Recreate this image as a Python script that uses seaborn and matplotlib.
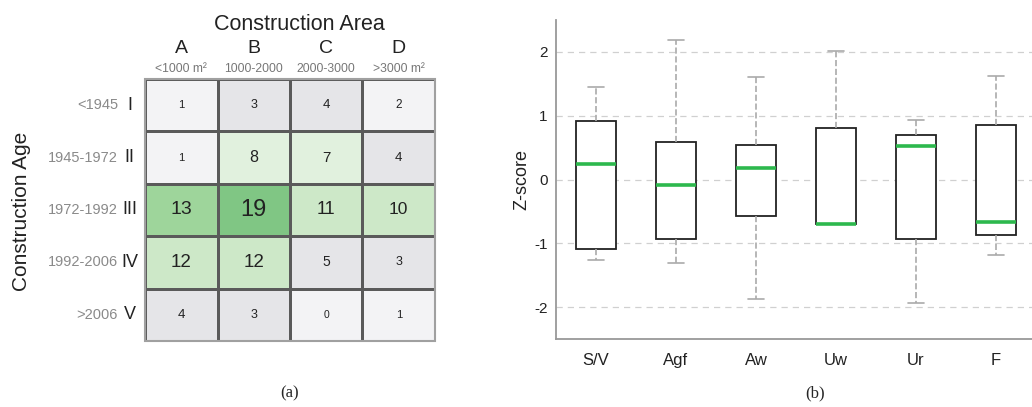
import numpy as np
import pandas as pd
import matplotlib
matplotlib.use("Agg")
import matplotlib.pyplot as plt
from matplotlib.colors import ListedColormap, BoundaryNorm
from matplotlib.patches import Rectangle
import seaborn as sns

# ----------------------------
# Data: (a) construction area vs age counts
# ----------------------------
area_letters = ["A", "B", "C", "D"]
area_ranges = ["<1000 m²", "1000-2000", "2000-3000", ">3000 m²"]
age_numerals = ["I", "II", "III", "IV", "V"]
age_ranges = ["<1945", "1945-1972", "1972-1992", "1992-2006", ">2006"]
counts = [
    [1, 3, 4, 2],
    [1, 8, 7, 4],
    [13, 19, 11, 10],
    [12, 12, 5, 3],
    [4, 3, 0, 1],
]

# ----------------------------
# Data: (b) z-score box stats (min, q1, median, q3, max)
# ----------------------------
variables = ["S/V", "Agf", "Aw", "Uw", "Ur", "F"]
z_min = [-1.26, -1.31, -1.87, -0.70, -1.94, -1.19]
z_q1 = [-1.09, -0.93, -0.57, -0.70, -0.93, -0.87]
z_med = [0.24, -0.09, 0.18, -0.70, 0.53, -0.67]
z_q3 = [0.91, 0.58, 0.54, 0.81, 0.70, 0.86]
z_max = [1.45, 2.18, 1.60, 2.01, 0.94, 1.63]

sns.set_style("white")
plt.rcParams["font.family"] = ["Liberation Sans", "DejaVu Sans"]
plt.rcParams["axes.unicode_minus"] = False

fig = plt.figure(figsize=(10.32, 4.07), dpi=100)

# ----------------------------
# Panel (a): heatmap
# ----------------------------
ax1 = fig.add_axes([145 / 1032, 1 - 341 / 407, 290 / 1032, 262 / 407])
mat = pd.DataFrame(counts, index=age_numerals, columns=area_letters)
cmap = ListedColormap(["#f3f3f5", "#e5e5e8", "#e1f1de", "#cde8c8", "#9ed59b", "#80c684"])
norm = BoundaryNorm([-0.5, 2.5, 6, 9, 12.5, 15, 20], cmap.N)
sns.heatmap(mat, ax=ax1, cmap=cmap, norm=norm, cbar=False,
            linewidths=0.75, linecolor="#5a5a5a")
ax1.add_patch(Rectangle((0, 0), 4, 5, fill=False, edgecolor="#a0a0a0",
                        linewidth=1.5, clip_on=False))

for i, row in enumerate(counts):
    for j, v in enumerate(row):
        ax1.text(j + 0.5, i + 0.5, str(v), ha="center", va="center",
                 fontsize=7.5 + 0.5 * v, color="#222222")

ax1.set_xticks([])
ax1.set_yticks([])
ax1.set_xlabel("")
ax1.set_ylabel("")

for j in range(4):
    ax1.annotate(area_letters[j], xy=(j + 0.5, 0), xytext=(0, 22),
                 textcoords="offset points", ha="center", va="center",
                 fontsize=14, color="#222222", annotation_clip=False)
    ax1.annotate(area_ranges[j], xy=(j + 0.5, 0), xytext=(0, 7),
                 textcoords="offset points", ha="center", va="center",
                 fontsize=8.7, color="#777777", annotation_clip=False)

for i in range(5):
    ax1.annotate(age_numerals[i], xy=(0, i + 0.5), xytext=(-11.2, 0),
                 textcoords="offset points", ha="center", va="center",
                 fontsize=13, color="#222222", annotation_clip=False)
    ax1.annotate(age_ranges[i], xy=(0, i + 0.5), xytext=(-19.4, 0),
                 textcoords="offset points", ha="right", va="center",
                 fontsize=10.5, color="#8a8a8a", annotation_clip=False)

fig.text(299 / 1032, 1 - 24 / 407, "Construction Area", ha="center",
         va="center", fontsize=15.5, color="#222222")
fig.text(22 / 1032, 1 - 211 / 407, "Construction Age", ha="center",
         va="center", fontsize=15, rotation=90, color="#222222")
fig.text(290 / 1032, 1 - 393 / 407, "(a)", ha="center", va="center",
         fontsize=12, family=["Liberation Serif", "DejaVu Serif"])

# ----------------------------
# Panel (b): box plot
# ----------------------------
ax2 = fig.add_axes([556 / 1032, 1 - 339 / 407, 476 / 1032, 319 / 407])
rows = []
for k, name in enumerate(variables):
    for val in (z_min[k], z_q1[k], z_med[k], z_q3[k], z_max[k]):
        rows.append({"variable": name, "z": val})
zdf = pd.DataFrame(rows)

sns.boxplot(data=zdf, x="variable", y="z", ax=ax2, order=variables,
            color="white", linecolor="#222222", linewidth=1.3, width=0.5,
            whis=(0, 100), showfliers=False, capwidths=0.21,
            whiskerprops=dict(color="#aaaaaa", linestyle="--", linewidth=1.2),
            capprops=dict(color="#aaaaaa", linewidth=1.2),
            medianprops=dict(color="#2db84d", linewidth=2.6))

ax2.set_xlim(-0.5, 5.45)
ax2.set_ylim(-2.5, 2.5)
ax2.set_yticks([-2, -1, 0, 1, 2])
ax2.yaxis.grid(True, linestyle=(0, (5, 4)), color="#d0d0d0", linewidth=0.9)
ax2.set_axisbelow(True)
for side in ["top", "right"]:
    ax2.spines[side].set_visible(False)
for side in ["left", "bottom"]:
    ax2.spines[side].set_color("#999999")
    ax2.spines[side].set_linewidth(1.3)
ax2.tick_params(axis="x", direction="in", length=5, color="#999999",
                labelsize=12, labelcolor="#222222", pad=10)
ax2.tick_params(axis="y", direction="out", length=3, color="#999999",
                labelsize=11, labelcolor="#222222", pad=3)
ax2.set_xlabel("")
ax2.set_ylabel("Z-score", fontsize=13, color="#222222", labelpad=3)

fig.text(815 / 1032, 1 - 393 / 407, "(b)", ha="center", va="center",
         fontsize=12, family=["Liberation Serif", "DejaVu Serif"])

fig.savefig("out.png", dpi=100)
